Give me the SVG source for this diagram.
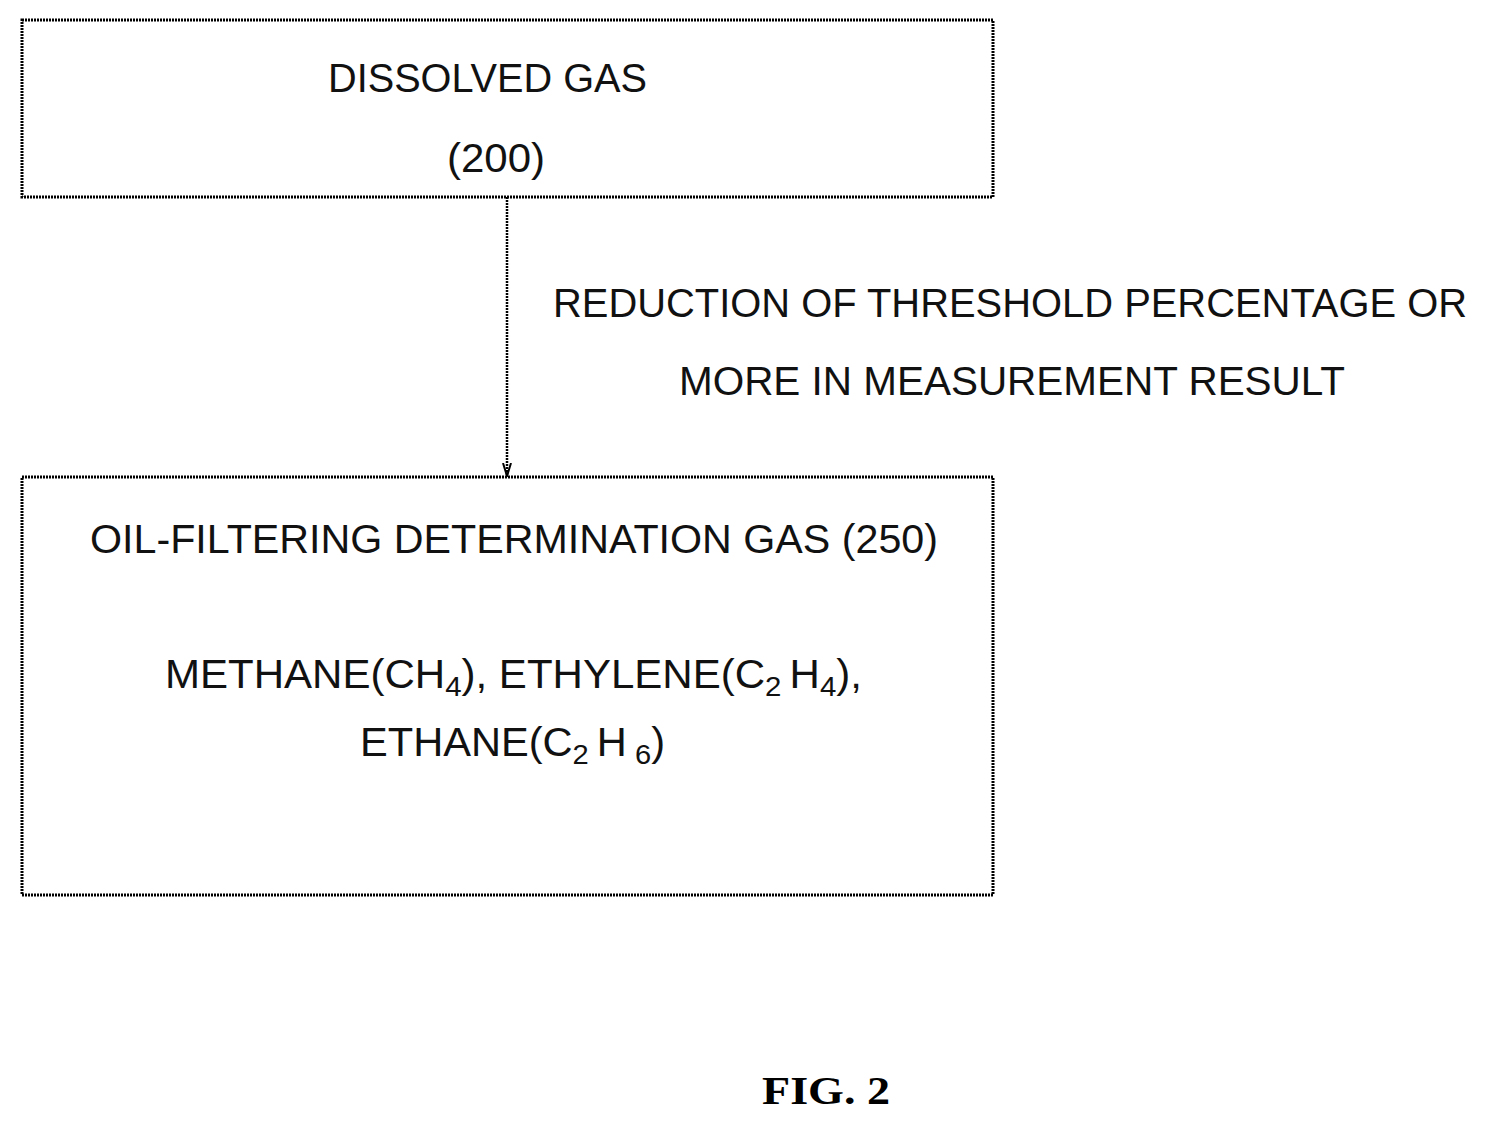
<svg xmlns="http://www.w3.org/2000/svg" width="1487" height="1126" viewBox="0 0 1487 1126">
<style>
.box{fill:none;stroke:#000;stroke-width:3;stroke-dasharray:2 1}
.t{font-family:"Liberation Sans",Arial,sans-serif;font-size:40px;fill:#111}
.sub{font-size:28px}
</style>
<defs><marker id="ah" markerWidth="14" markerHeight="10" refX="13" refY="5" orient="auto" markerUnits="userSpaceOnUse"><path d="M0,1 L13,5 L0,9" fill="none" stroke="#000" stroke-width="2"/></marker></defs>
<rect width="1487" height="1126" fill="#fff"/>
<g id="node-200">
<rect class="box" x="22" y="20" width="971" height="177"/>
<text class="t" x="328" y="92" textLength="319" lengthAdjust="spacingAndGlyphs">DISSOLVED GAS</text>
<text class="t" x="447" y="172" textLength="98" lengthAdjust="spacingAndGlyphs">(200)</text>
</g>
<g id="node-250">
<rect class="box" x="22" y="477" width="971" height="418"/>
<text class="t" x="90" y="553" textLength="848" lengthAdjust="spacingAndGlyphs">OIL-FILTERING DETERMINATION GAS (250)</text>
<text class="t" x="165" y="688" textLength="697" lengthAdjust="spacingAndGlyphs">METHANE(CH<tspan class="sub" dy="8">4</tspan><tspan dy="-8">), ETHYLENE(C</tspan><tspan class="sub" dy="8">2 </tspan><tspan dy="-8">H</tspan><tspan class="sub" dy="8">4</tspan><tspan dy="-8">),</tspan></text>
<text class="t" x="360" y="756" textLength="305" lengthAdjust="spacingAndGlyphs">ETHANE(C<tspan class="sub" dy="8">2 </tspan><tspan dy="-8">H</tspan><tspan class="sub" dy="8"> 6</tspan><tspan dy="-8">)</tspan></text>
</g>
<g id="connectors">
<line x1="507" y1="197" x2="507" y2="476" stroke="#000" stroke-width="2.5" stroke-dasharray="2 1" marker-end="url(#ah)"/>
<text class="t" x="553" y="317" textLength="914" lengthAdjust="spacingAndGlyphs">REDUCTION OF THRESHOLD PERCENTAGE OR</text>
<text class="t" x="679" y="395" textLength="666" lengthAdjust="spacingAndGlyphs">MORE IN MEASUREMENT RESULT</text>
</g>
<text x="762" y="1104" font-family="Liberation Serif,serif" font-weight="bold" font-size="40" textLength="128" lengthAdjust="spacingAndGlyphs">FIG. 2</text>
</svg>
